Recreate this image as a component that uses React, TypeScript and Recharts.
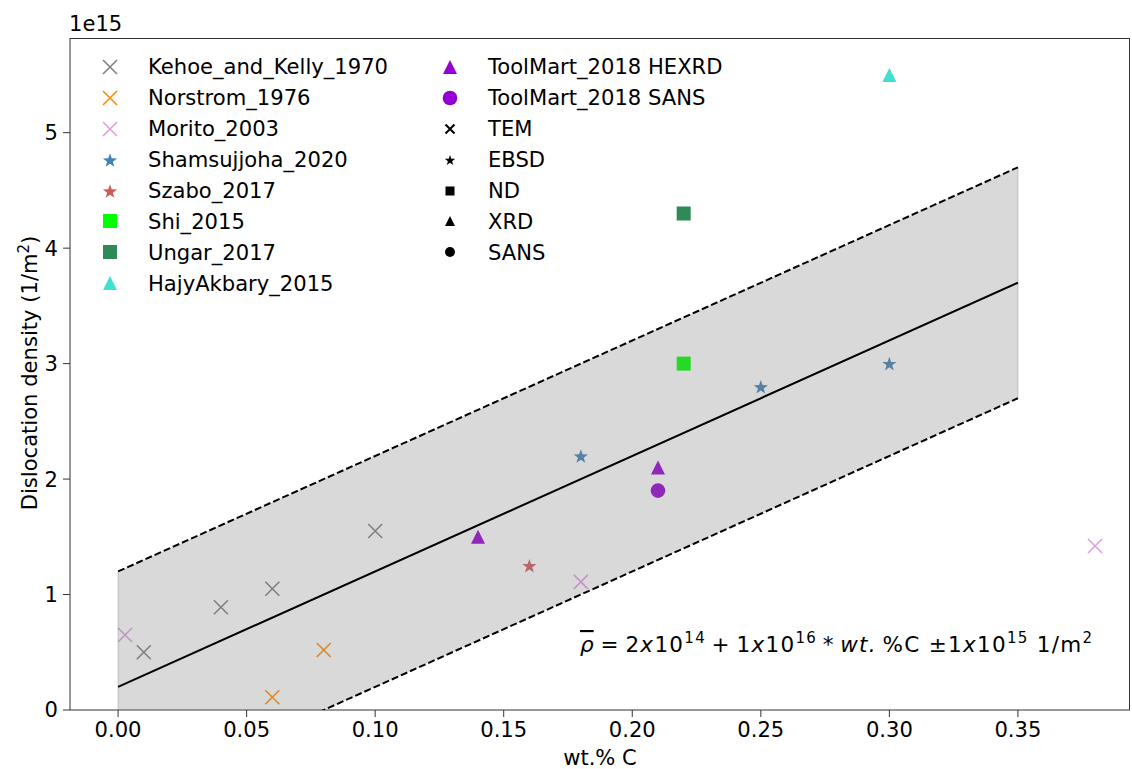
import React from "react";
import { ComposedChart, XAxis, YAxis, Scatter, Line, Area, ReferenceLine } from "recharts";

const FONT = "'DejaVu Sans', Verdana, sans-serif";
const FS = 21.1;

// axis ticks (y in units of 1e15 1/m^2)
const xTicks = [0, 0.05, 0.1, 0.15, 0.2, 0.25, 0.3, 0.35];
const yTicks = [0, 1, 2, 3, 4, 5];

// measurements
const kehoe = [
  { x: 0.01, y: 0.5 },
  { x: 0.04, y: 0.89 },
  { x: 0.06, y: 1.05 },
  { x: 0.1, y: 1.55 },
];
const norstrom = [
  { x: 0.06, y: 0.11 },
  { x: 0.08, y: 0.52 },
];
const morito = [
  { x: 0.0027, y: 0.65 },
  { x: 0.18, y: 1.11 },
  { x: 0.38, y: 1.42 },
];
const shamsujjoha = [
  { x: 0.18, y: 2.2 },
  { x: 0.25, y: 2.8 },
  { x: 0.3, y: 3.0 },
];
const szabo = [{ x: 0.16, y: 1.25 }];
const shi = [{ x: 0.22, y: 3.0 }];
const ungar = [{ x: 0.22, y: 4.3 }];
const hajyAkbary = [{ x: 0.3, y: 5.5 }];
const toolMartHexrd = [
  { x: 0.14, y: 1.5 },
  { x: 0.21, y: 2.1 },
];
const toolMartSans = [{ x: 0.21, y: 1.9 }];

// fit line and +/- 1e15 band
const bandX = [0, 0.35];
const fitY = [0.2, 3.7];
const upperY = [1.2, 4.7];
const lowerY = [-0.8, 2.7];
const bandData = bandX.map((x, i) => ({
  x,
  fit: fitY[i],
  upper: upperY[i],
  lower: lowerY[i],
  band: [lowerY[i], upperY[i]],
}));

type ShapeProps = { cx?: number; cy?: number };

const xMark = (color: string, r = 7, w = 1.6) => ({ cx = 0, cy = 0 }: ShapeProps) => (
  <path
    d={`M${cx - r},${cy - r}L${cx + r},${cy + r}M${cx - r},${cy + r}L${cx + r},${cy - r}`}
    stroke={color}
    strokeWidth={w}
    fill="none"
  />
);

const starMark = (color: string, R = 7.5) => ({ cx = 0, cy = 0 }: ShapeProps) => {
  const pts: string[] = [];
  for (let i = 0; i < 10; i++) {
    const rr = i % 2 === 0 ? R : R * 0.4;
    const a = (Math.PI / 5) * i - Math.PI / 2;
    pts.push(`${cx + rr * Math.cos(a)},${cy + rr * Math.sin(a) + R * 0.1}`);
  }
  return <polygon points={pts.join(" ")} fill={color} />;
};

const squareMark = (color: string, s = 14) => ({ cx = 0, cy = 0 }: ShapeProps) => (
  <rect x={cx - s / 2} y={cy - s / 2} width={s} height={s} fill={color} />
);

const triMark = (color: string, r = 7) => ({ cx = 0, cy = 0 }: ShapeProps) => (
  <polygon points={`${cx},${cy - r} ${cx - r},${cy + r} ${cx + r},${cy + r}`} fill={color} />
);

const circleMark = (color: string, r = 7.3) => ({ cx = 0, cy = 0 }: ShapeProps) => (
  <circle cx={cx} cy={cy} r={r} fill={color} />
);

const series = [
  { name: "Kehoe_and_Kelly_1970", data: kehoe, shape: xMark("#808080") },
  { name: "Norstrom_1976", data: norstrom, shape: xMark("#ff8c00") },
  { name: "Morito_2003", data: morito, shape: xMark("#dda0dd") },
  { name: "Shamsujjoha_2020", data: shamsujjoha, shape: starMark("#4682b4") },
  { name: "Szabo_2017", data: szabo, shape: starMark("#cd5c5c") },
  { name: "Shi_2015", data: shi, shape: squareMark("#00ff00") },
  { name: "Ungar_2017", data: ungar, shape: squareMark("#2e8b57") },
  { name: "HajyAkbary_2015", data: hajyAkbary, shape: triMark("#40e0d0") },
  { name: "ToolMart_2018 HEXRD", data: toolMartHexrd, shape: triMark("#9400d3") },
  { name: "ToolMart_2018 SANS", data: toolMartSans, shape: circleMark("#9400d3") },
];

const methodLegend = [
  { name: "TEM", shape: xMark("#000", 4.5, 2) },
  { name: "EBSD", shape: starMark("#000", 5.5) },
  { name: "ND", shape: squareMark("#000", 9) },
  { name: "XRD", shape: triMark("#000", 5) },
  { name: "SANS", shape: circleMark("#000", 5) },
];

const col1 = series.slice(0, 8);
const col2 = [...series.slice(8), ...methodLegend];

function LegendColumn({ items, left }: { items: { name: string; shape: (p: ShapeProps) => React.ReactElement }[]; left: number }) {
  return (
    <div style={{ position: "absolute", left, top: 51.5 }}>
      {items.map((it) => (
        <div key={it.name} style={{ display: "flex", alignItems: "center", height: 30.9 }}>
          <svg width={24} height={24} style={{ overflow: "visible" }}>
            {it.shape({ cx: 12, cy: 12 })}
          </svg>
          <span style={{ marginLeft: 26, fontSize: FS, fontFamily: FONT, color: "#000", whiteSpace: "nowrap" }}>
            {it.name}
          </span>
        </div>
      ))}
    </div>
  );
}

export default function App() {
  return (
    <div style={{ position: "absolute", left: 0, top: 0, width: 1132, height: 769, background: "#fff" }}>
      <ComposedChart width={1132} height={769} margin={{ top: 38, right: 2, bottom: 29, left: 10 }}>
        <XAxis
          dataKey="x"
          type="number"
          domain={[-0.0187, 0.3936]}
          allowDataOverflow
          ticks={xTicks}
          interval={0}
          tickFormatter={(v: number) => v.toFixed(2)}
          tick={{ fill: "#000", fontSize: FS, fontFamily: FONT }}
          tickSize={7}
          tickMargin={5}
          stroke="#333"
          height={30}
        />
        <YAxis
          type="number"
          domain={[0, 5.82]}
          allowDataOverflow
          ticks={yTicks}
          interval={0}
          tickFormatter={(v: number) => String(v)}
          tick={{ fill: "#000", fontSize: FS, fontFamily: FONT }}
          tickSize={7}
          tickMargin={5}
          stroke="#333"
          width={60}
        />
        {series.map((s) => (
          <Scatter key={s.name} name={s.name} data={s.data} dataKey="y" shape={s.shape} isAnimationActive={false} />
        ))}
        <Area
          data={bandData}
          dataKey="band"
          type="linear"
          fill="#808080"
          fillOpacity={0.3}
          stroke="none"
          isAnimationActive={false}
          zIndex={700}
        />
        <ReferenceLine
          segment={[
            { x: bandX[0], y: 0 },
            { x: bandX[0], y: upperY[0] },
          ]}
          stroke="#808080"
          strokeOpacity={0.4}
          zIndex={700}
        />
        <ReferenceLine
          segment={[
            { x: bandX[1], y: lowerY[1] },
            { x: bandX[1], y: upperY[1] },
          ]}
          stroke="#808080"
          strokeOpacity={0.4}
          zIndex={700}
        />
        <Line data={bandData} dataKey="fit" type="linear" stroke="#000" strokeWidth={2} dot={false} isAnimationActive={false} zIndex={800} />
        <Line data={bandData} dataKey="upper" type="linear" stroke="#000" strokeWidth={2} strokeDasharray="7 3" dot={false} isAnimationActive={false} zIndex={800} />
        <Line data={bandData} dataKey="lower" type="linear" stroke="#000" strokeWidth={2} strokeDasharray="7 3" dot={false} isAnimationActive={false} zIndex={800} />
      </ComposedChart>

      {/* top and right spines */}
      <div
        style={{
          position: "absolute",
          left: 70,
          top: 38,
          width: 1060,
          height: 672,
          borderTop: "1px solid #333",
          borderRight: "1px solid #333",
          boxSizing: "border-box",
          pointerEvents: "none",
        }}
      />

      <svg width={1132} height={769} style={{ position: "absolute", left: 0, top: 0, pointerEvents: "none" }}>
        <text x={69} y={31} fontSize={FS} fontFamily={FONT} fill="#000">1e15</text>
        <text x={600} y={765} fontSize={FS} fontFamily={FONT} fill="#000" textAnchor="middle">wt.% C</text>
        <text
          transform="translate(37,373) rotate(-90)"
          fontSize={FS}
          fontFamily={FONT}
          fill="#000"
          textAnchor="middle"
        >
          Dislocation density (1/m<tspan dy={-8} fontSize={15}>2</tspan>
          <tspan dy={8}>)</tspan>
        </text>
        <text x={580} y={652} fontSize={21.5} fontFamily={FONT} fill="#000" textLength={512} lengthAdjust="spacing">
          <tspan fontStyle="italic" style={{ textDecoration: "overline" }}>ρ</tspan>
          <tspan>{"\u2009=\u20092"}</tspan>
          <tspan fontStyle="italic">x</tspan>
          <tspan>10</tspan>
          <tspan dy={-9} fontSize={15}>14</tspan>
          <tspan dy={9}>{"\u2009+\u20091"}</tspan>
          <tspan fontStyle="italic">x</tspan>
          <tspan>10</tspan>
          <tspan dy={-9} fontSize={15}>16</tspan>
          <tspan dy={9}>{"\u2009*\u2009"}</tspan>
          <tspan fontStyle="italic">wt.</tspan>
          <tspan>{"\u2009%C ±1"}</tspan>
          <tspan fontStyle="italic">x</tspan>
          <tspan>10</tspan>
          <tspan dy={-9} fontSize={15}>15</tspan>
          <tspan dy={9}> 1/m</tspan>
          <tspan dy={-9} fontSize={15}>2</tspan>
        </text>
      </svg>

      <LegendColumn items={col1} left={98} />
      <LegendColumn items={col2} left={438} />
    </div>
  );
}
